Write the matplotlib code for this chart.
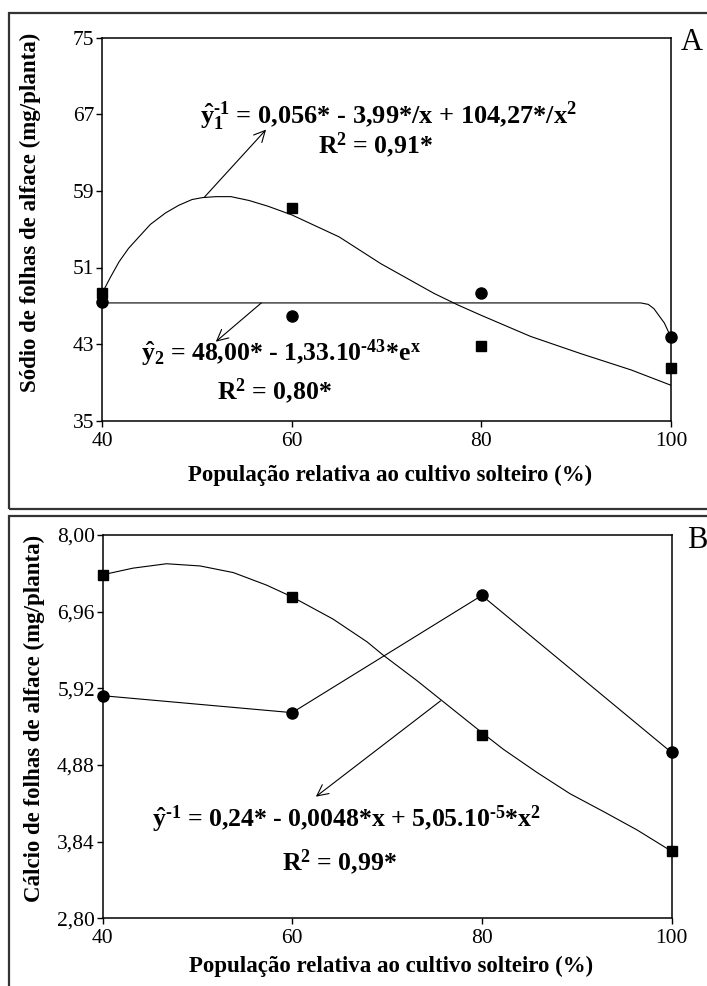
import matplotlib
matplotlib.use("Agg")
import matplotlib.pyplot as plt
from matplotlib.patches import Rectangle

plt.rcParams["font.family"] = ["Liberation Serif", "DejaVu Serif"]
plt.rcParams["mathtext.fontset"] = "custom"
plt.rcParams["mathtext.rm"] = "Liberation Serif:bold"
plt.rcParams["mathtext.it"] = "Liberation Serif:bold"
plt.rcParams["mathtext.bf"] = "Liberation Serif:bold"

# ---- data ----
pop = [40, 60, 80, 100]

# Panel A: sodium (mg/planta)
na_square = [48.3, 57.2, 42.8, 40.5]
na_circle = [47.4, 45.9, 48.3, 43.7]
na_fit1_x = [40, 40.9, 41.8, 42.8, 43.9, 45.1, 46.7, 48.1, 49.5, 50.6, 52, 53.6,
             55.5, 57.5, 60, 65, 69.4, 75, 77.5, 80, 85.2, 90.5, 95.8, 100]
na_fit1_y = [48.3, 50.0, 51.6, 53.0, 54.2, 55.5, 56.7, 57.5, 58.1, 58.3, 58.4, 58.4,
             58.0, 57.4, 56.5, 54.2, 51.4, 48.3, 47.1, 46.0, 43.8, 42.0, 40.3, 38.7]
na_fit2_x = [40, 96.8, 97.6, 98.2, 99.3, 100]
na_fit2_y = [47.3, 47.3, 47.15, 46.7, 45.2, 43.7]

# Panel B: calcium (mg/planta)
ca_square = [7.46, 7.16, 5.29, 3.71]
ca_circle = [5.82, 5.59, 7.18, 5.05]
ca_fit_x = [40, 43.2, 46.75, 50.3, 53.8, 57.3, 60, 64.3, 67.9, 69.6, 73.1,
            76.6, 80, 82.3, 85.8, 89.3, 92.8, 96.35, 100]
ca_fit_y = [7.46, 7.55, 7.61, 7.58, 7.49, 7.32, 7.16, 6.86, 6.55, 6.37, 6.03,
            5.67, 5.32, 5.09, 4.78, 4.49, 4.25, 4.00, 3.71]

na_ticks = [35, 43, 51, 59, 67, 75]
ca_ticks = [2.80, 3.84, 4.88, 5.92, 6.96, 8.00]
ca_ticklabels = ["2,80", "3,84", "4,88", "5,92", "6,96", "8,00"]

W, H = 707, 986
fig = plt.figure(figsize=(W / 100, H / 100), dpi=100)


def fx(px):
    return px / W


def fy(py):
    return 1 - py / H


# panel frames
for top, bot in [(13, 509), (516, 995)]:
    fig.patches.append(Rectangle((fx(9), fy(bot)), fx(720) - fx(9), fy(top) - fy(bot),
                                 transform=fig.transFigure, fill=False,
                                 edgecolor="#333333", lw=1.6, clip_on=False))

axA = fig.add_axes([fx(102), fy(420.7), fx(569), (420.7 - 37.7) / H])
axB = fig.add_axes([fx(102.5), fy(918.3), fx(569), (918.3 - 535) / H])

line_kw = dict(color="black", lw=0.8)
sq_kw = dict(marker="s", ms=6.8, color="black", ls="none", clip_on=False, zorder=5)
ci_kw = dict(marker="o", ms=8, color="black", ls="none", clip_on=False, zorder=5)

# ---- panel A ----
axA.plot(na_fit1_x, na_fit1_y, **line_kw)
axA.plot(na_fit2_x, na_fit2_y, **line_kw)
axA.plot(pop, na_square, **sq_kw)
axA.plot(pop, na_circle, **ci_kw)
axA.set_xlim(40, 100)
axA.set_ylim(35, 75)
axA.set_yticks(na_ticks)
axA.set_xticks(pop)

eq_kw = dict(fontsize=18.5, fontweight="bold", ha="left", va="baseline")
axA.text(50.3, 66.0, "$\\hat{y}_1^{\u20101}$ = 0,056* - 3,99*/x + 104,27*/x$^2$",
         **dict(eq_kw, fontsize=19))
axA.text(62.8, 62.9, r"R$^2$ = 0,91*", **eq_kw)
axA.text(44.1, 41.2, "$\\hat{y}_2$ = 48,00* - 1,33.10$^{\u201043}$*e$^{x}$", **eq_kw)
axA.text(52.1, 37.2, r"R$^2$ = 0,80*", **eq_kw)

arr = dict(arrowstyle="->,head_length=0.8,head_width=0.4", lw=0.8, color="black",
           shrinkA=0, shrinkB=0)
axA.annotate("", xy=(57.3, 65.4), xytext=(50.8, 58.35), arrowprops=arr)
axA.annotate("", xy=(52.0, 43.25), xytext=(56.8, 47.3), arrowprops=arr)

# ---- panel B ----
axB.plot(ca_fit_x, ca_fit_y, **line_kw)
axB.plot(pop, ca_circle, **line_kw)
axB.plot(pop, ca_square, **sq_kw)
axB.plot(pop, ca_circle, **ci_kw)
axB.set_xlim(40, 100)
axB.set_ylim(2.80, 8.00)
axB.set_yticks(ca_ticks)
axB.set_yticklabels(ca_ticklabels)
axB.set_xticks(pop)

axB.text(45.2, 4.04, "$\\hat{y}^{\u20101}$ = 0,24* - 0,0048*x + 5,05.10$^{\u20105}$*x$^2$",
         **eq_kw)
axB.text(58.9, 3.455, r"R$^2$ = 0,99*", **eq_kw)
axB.annotate("", xy=(62.5, 4.45), xytext=(75.65, 5.75), arrowprops=arr)

for ax in (axA, axB):
    for s in ax.spines.values():
        s.set_linewidth(1.1)
    ax.tick_params(direction="out", length=4, width=1, labelsize=15.5, pad=1.5)
    ax.tick_params(axis="x", pad=4)

# axis labels and panel letters
lab_kw = dict(fontsize=16.5, fontweight="bold", ha="center", va="center")
fig.text(fx(30), fy(212), "Sódio de folhas de alface (mg/planta)", rotation=90, **lab_kw)
fig.text(fx(34), fy(718), "Cálcio de folhas de alface (mg/planta)", rotation=90, **lab_kw)
fig.text(fx(390), fy(475), "População relativa ao cultivo solteiro (%)", **lab_kw)
fig.text(fx(391), fy(966.7), "População relativa ao cultivo solteiro (%)", **lab_kw)
fig.text(fx(681), fy(43), "A", fontsize=22, ha="left", va="center")
fig.text(fx(687), fy(540), "B", fontsize=22, ha="left", va="center")

fig.savefig("out.png", dpi=100)
